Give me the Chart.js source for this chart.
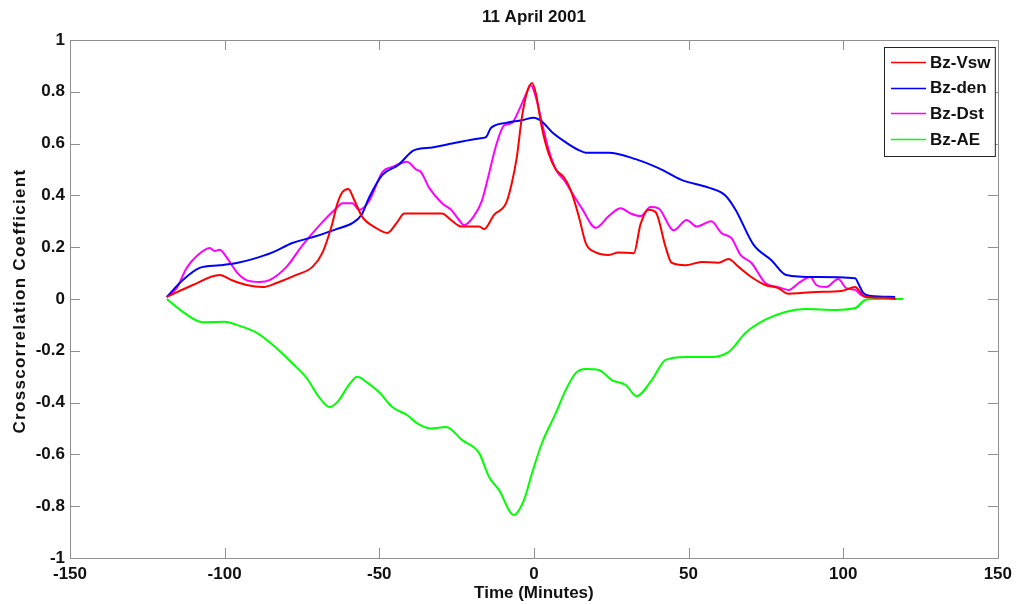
<!DOCTYPE html>
<html>
<head>
<meta charset="utf-8">
<script src="https://cdn.jsdelivr.net/npm/chart.js@4.4.1/dist/chart.umd.min.js"></script>
<style>
html,body{margin:0;padding:0;background:#fff;}
#wrap{width:1018px;height:604px;position:relative;}
</style>
</head>
<body>
<div id="wrap"><canvas id="c" width="1018" height="604"></canvas></div>
<script>
// ---- data ----
const chartTitle = "11 April 2001";
const xAxisTitle = "Time (Minutes)";
const yAxisTitle = "Crosscorrelation Coefficient";
const seriesNames = ["Bz-Vsw", "Bz-den", "Bz-Dst", "Bz-AE"];
const seriesColors = ["#ff0000", "#0000ff", "#ff00ff", "#00ff00"];
const xTickValues = [-150, -100, -50, 0, 50, 100, 150];
const yTickValues = [-1, -0.8, -0.6, -0.4, -0.2, 0, 0.2, 0.4, 0.6, 0.8, 1];

const vswLag  = [-118.7,-110.3,-101.6,-97.7,-92.9,-87.7,-83.2,-76.8,-71.6,-68.4,-65.5,-63.5,-61.9,-60.0,-58.1,-55.5,-51.0,-47.4,-44.2,-41.9,-36.1,-29.7,-26.8,-23.5,-17.7,-16.1,-12.9,-9.0,-7.1,-5.5,-3.9,-2.3,-0.6,0.6,2.6,4.8,7.1,9.7,11.9,14.5,16.8,20.0,24.2,27.4,32.3,34.5,37.1,39.4,42.6,44.5,49.0,54.2,59.7,62.9,66.1,70.3,74.8,79.0,82.3,86.5,91.0,99.4,103.9,105.5,107.1,113.5,117.0];
const vswCorr = [0.008,0.054,0.093,0.073,0.054,0.046,0.062,0.093,0.124,0.178,0.278,0.37,0.413,0.425,0.382,0.317,0.274,0.255,0.297,0.33,0.33,0.33,0.305,0.28,0.28,0.27,0.325,0.37,0.45,0.55,0.70,0.795,0.834,0.795,0.66,0.56,0.50,0.47,0.42,0.32,0.215,0.18,0.17,0.18,0.177,0.29,0.345,0.335,0.20,0.14,0.13,0.143,0.14,0.154,0.125,0.085,0.054,0.042,0.02,0.023,0.027,0.031,0.046,0.027,0.008,0.005,0.0];

const denLag  = [-118.7,-113.5,-108.1,-101.6,-96.1,-91.0,-84.5,-78.1,-70.3,-63.9,-58.7,-55.8,-53.2,-49.0,-43.9,-38.7,-32.9,-26.5,-17.7,-15.5,-13.9,-9.0,-3.9,0.0,2.6,5.8,10.3,14.5,16.8,24.2,32.9,40.3,47.7,56.5,61.9,65.2,71.0,76.8,81.6,91.0,103.9,104.8,106.5,109.0,116.8];
const denCorr = [0.008,0.073,0.12,0.13,0.139,0.154,0.18,0.216,0.243,0.27,0.293,0.324,0.394,0.479,0.517,0.575,0.585,0.60,0.62,0.625,0.66,0.68,0.69,0.70,0.685,0.645,0.605,0.575,0.565,0.565,0.54,0.505,0.46,0.43,0.40,0.345,0.21,0.15,0.093,0.085,0.08,0.062,0.023,0.012,0.008];

const dstLag  = [-118.7,-115.5,-112.3,-109.0,-104.8,-103.2,-101.6,-99.4,-96.1,-92.9,-88.7,-85.5,-80.0,-74.8,-68.4,-63.9,-61.9,-58.7,-56.5,-53.2,-49.0,-45.8,-41.0,-38.1,-36.5,-33.9,-29.7,-26.8,-24.2,-22.6,-19.4,-16.8,-14.5,-12.3,-9.7,-7.1,-4.8,-2.6,-1.0,0.6,2.6,4.8,7.1,10.3,12.3,15.5,20.0,24.2,28.1,31.3,34.5,37.7,40.3,45.2,49.4,52.6,57.4,60.6,63.9,66.8,70.3,74.8,79.0,82.3,86.1,89.4,91.3,94.5,98.4,101.0,103.9,105.8,108.1,114.5];
const dstCorr = [0.008,0.042,0.12,0.166,0.197,0.185,0.19,0.162,0.104,0.073,0.066,0.073,0.124,0.208,0.297,0.35,0.37,0.37,0.344,0.38,0.49,0.51,0.53,0.50,0.49,0.43,0.37,0.345,0.305,0.285,0.32,0.38,0.485,0.59,0.67,0.68,0.73,0.79,0.825,0.78,0.68,0.575,0.50,0.45,0.41,0.35,0.275,0.32,0.35,0.33,0.32,0.355,0.35,0.265,0.305,0.28,0.30,0.255,0.235,0.17,0.14,0.062,0.046,0.035,0.066,0.085,0.054,0.046,0.077,0.042,0.035,0.015,0.008,0.008];

const aeLag  = [-118.7,-117.7,-113.5,-107.1,-100.0,-96.1,-89.7,-83.2,-78.1,-73.5,-69.4,-66.1,-63.5,-59.7,-57.1,-54.2,-50.0,-45.8,-41.0,-37.7,-33.2,-28.4,-23.2,-17.7,-14.5,-11.3,-6.5,-3.2,-0.6,2.6,7.1,10.3,13.5,16.8,21.0,25.2,29.7,33.2,38.1,42.6,49.0,55.8,62.9,68.4,74.8,81.3,87.7,97.4,103.9,107.1,110.3,119.4];
const aeCorr = [0.0,-0.01,-0.05,-0.09,-0.088,-0.10,-0.13,-0.19,-0.248,-0.305,-0.38,-0.417,-0.397,-0.33,-0.30,-0.32,-0.36,-0.417,-0.448,-0.48,-0.50,-0.494,-0.545,-0.595,-0.687,-0.737,-0.834,-0.776,-0.672,-0.556,-0.44,-0.351,-0.286,-0.27,-0.274,-0.313,-0.332,-0.375,-0.313,-0.235,-0.224,-0.224,-0.205,-0.131,-0.08,-0.05,-0.039,-0.042,-0.035,-0.004,0.0,0.0];

const lagArrays = [vswLag, denLag, dstLag, aeLag];
const corrArrays = [vswCorr, denCorr, dstCorr, aeCorr];

// ---- build datasets ----
const datasets = seriesNames.map((name, i) => ({
  label: name,
  data: lagArrays[i].map((x, k) => ({x: x, y: corrArrays[i][k]})),
  borderColor: seriesColors[i],
  backgroundColor: seriesColors[i],
  borderWidth: 2,
  pointRadius: 0,
  fill: false,
  cubicInterpolationMode: 'monotone'
}));

const FONT = '"Liberation Sans", Arial, Helvetica, sans-serif';
const AXIS_COLOR = '#8f8f8f';

// Box, inward tick marks, titles and legend
const decorPlugin = {
  id: 'decor',
  afterDatasetsDraw(chart) {
    const ctx = chart.ctx;
    const a = chart.chartArea;
    const xs = chart.scales.x, ys = chart.scales.y;
    ctx.save();
    ctx.strokeStyle = AXIS_COLOR;
    ctx.lineWidth = 1;
    ctx.beginPath();
    ctx.rect(Math.round(a.left) + 0.5, Math.round(a.top) + 0.5, Math.round(a.right - a.left), Math.round(a.bottom - a.top));
    ctx.stroke();
    const tl = 10;
    ctx.beginPath();
    xs.ticks.forEach(t => {
      const px = Math.round(xs.getPixelForValue(t.value)) + 0.5;
      ctx.moveTo(px, a.bottom); ctx.lineTo(px, a.bottom - tl);
      ctx.moveTo(px, a.top); ctx.lineTo(px, a.top + tl);
    });
    ys.ticks.forEach(t => {
      const py = Math.round(ys.getPixelForValue(t.value)) + 0.5;
      ctx.moveTo(a.left, py); ctx.lineTo(a.left + tl, py);
      ctx.moveTo(a.right, py); ctx.lineTo(a.right - tl, py);
    });
    ctx.stroke();

    // titles
    ctx.fillStyle = '#111';
    ctx.font = 'bold 17px ' + FONT;
    ctx.textAlign = 'center';
    ctx.textBaseline = 'middle';
    const cx = (a.left + a.right) / 2;
    ctx.fillText(chartTitle, cx, 17);
    ctx.fillText(xAxisTitle, cx, 593);
    ctx.save();
    ctx.translate(20, 301);
    ctx.rotate(-Math.PI / 2);
    if ('letterSpacing' in ctx) ctx.letterSpacing = '1.3px';
    ctx.fillText(yAxisTitle, 0, 0);
    ctx.restore();

    // legend
    const bx = 884, by = 47, bw = a.right - 3 - 884, bh = 109;
    ctx.fillStyle = '#fff';
    ctx.fillRect(bx, by, bw, bh);
    ctx.strokeStyle = '#222';
    ctx.lineWidth = 1;
    ctx.strokeRect(bx + 0.5, by + 0.5, bw, bh);
    ctx.font = 'bold 17px ' + FONT;
    ctx.textAlign = 'left';
    chart.data.datasets.forEach((ds, i) => {
      const y = 62 + i * 25.7;
      ctx.strokeStyle = ds.borderColor;
      ctx.lineWidth = 1.5;
      ctx.beginPath();
      ctx.moveTo(891, Math.round(y) + 0.5);
      ctx.lineTo(926, Math.round(y) + 0.5);
      ctx.stroke();
      ctx.fillStyle = '#111';
      ctx.fillText(ds.label, 930, y + 1);
    });
    ctx.restore();
  }
};

new Chart(document.getElementById('c'), {
  type: 'line',
  data: { datasets: datasets },
  options: {
    responsive: false,
    animation: false,
    layout: { padding: { left: 0, right: 18, top: 40, bottom: 0 } },
    plugins: { legend: { display: false }, title: { display: false }, tooltip: { enabled: false } },
    scales: {
      x: {
        type: 'linear',
        min: -150, max: 150,
        afterFit(scale) { scale.height = 46; },
        afterBuildTicks(scale) { scale.ticks = xTickValues.map(v => ({value: v})); },
        grid: { display: false, drawTicks: false },
        border: { display: false },
        ticks: {
          padding: 6,
          color: '#111',
          font: { family: FONT, size: 17, weight: 'bold' },
          maxRotation: 0,
          autoSkip: false,
          callback: v => String(v)
        }
      },
      y: {
        type: 'linear',
        min: -1, max: 1,
        afterFit(scale) { scale.width = 70; },
        afterBuildTicks(scale) { scale.ticks = yTickValues.map(v => ({value: v})); },
        grid: { display: false, drawTicks: false },
        border: { display: false },
        ticks: {
          padding: 5,
          color: '#111',
          font: { family: FONT, size: 17, weight: 'bold' },
          autoSkip: false,
          callback: v => String(Math.round(v * 10) / 10)
        }
      }
    }
  },
  plugins: [decorPlugin]
});
</script>
</body>
</html>
